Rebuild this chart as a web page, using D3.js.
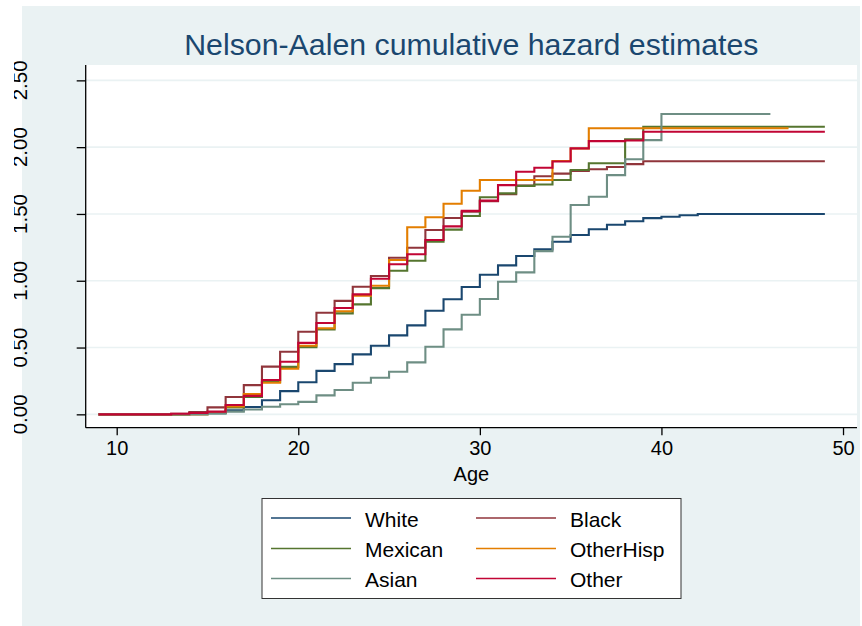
<!DOCTYPE html>
<html><head><meta charset="utf-8">
<script src="https://cdn.jsdelivr.net/npm/d3@7/dist/d3.min.js"></script>
<style>body{margin:0;background:#fff}svg{display:block}</style>
</head><body><svg id="c" width="862" height="626"></svg>
<script>
// ---- data (value of the cumulative hazard from each age onward) ----
const ages = [9,10,11,12,13,14,15,16,17,18,19,20,21,22,23,24,25,26,27,28,29,30,31,32,33,34,35,36,37,38,39,40,41,42,43,44,45,46,47,48,49];
const white = [0,0,0,0,0,0.003,0.01,0.03,0.055,0.105,0.174,0.24,0.325,0.376,0.449,0.514,0.591,0.666,0.775,0.861,0.953,1.045,1.115,1.185,1.235,1.292,1.342,1.385,1.419,1.445,1.469,1.479,1.49,1.5,1.5,1.5,1.5,1.5,1.5,1.5,1.5];
const black = [0,0,0,0,0.004,0.017,0.052,0.13,0.219,0.357,0.469,0.618,0.76,0.849,0.955,1.035,1.172,1.247,1.38,1.47,1.517,1.595,1.647,1.712,1.782,1.802,1.821,1.835,1.852,1.873,1.894,1.894,1.894,1.894,1.894,1.894,1.894,1.894,1.894,1.894,1.894];
const mexican = [0,0,0,0,0,0.005,0.01,0.052,0.13,0.244,0.355,0.503,0.636,0.756,0.823,0.945,1.075,1.15,1.292,1.383,1.485,1.625,1.654,1.71,1.72,1.754,1.829,1.879,1.879,2.058,2.153,2.153,2.153,2.153,2.153,2.153,2.153,2.153,2.153,2.153,2.153];
const otherHisp = [0,0,0,0,0,0,0.012,0.06,0.151,0.237,0.341,0.513,0.645,0.772,0.888,0.963,1.155,1.4,1.475,1.576,1.674,1.754,1.754,1.754,1.754,1.896,1.99,2.141,2.141,2.141,2.141,2.141,2.141,2.141,2.141,2.141,2.141,2.141,2.141,null,null];
const asian = [0,0,0,0,0,0,0.005,0.02,0.036,0.057,0.075,0.093,0.142,0.182,0.237,0.274,0.319,0.389,0.506,0.636,0.746,0.863,0.993,1.063,1.222,1.329,1.567,1.629,1.791,1.909,2.053,2.248,2.248,2.248,2.248,2.248,2.248,2.248,null,null,null];
const other = [0,0,0,0,0.004,0.01,0.02,0.07,0.138,0.257,0.394,0.535,0.684,0.796,0.898,1.015,1.123,1.198,1.305,1.407,1.523,1.6,1.716,1.816,1.846,1.893,1.991,2.045,2.045,2.05,2.115,2.115,2.115,2.115,2.115,2.115,2.115,2.115,2.115,2.115,2.115];

const seriesNames = ["White","Black","Mexican","OtherHisp","Asian","Other"];
const seriesValues = [white, black, mexican, otherHisp, asian, other];
const seriesColors = ["#1A476F","#90353B","#55752F","#E37E00","#6E8E84","#C10534"];
const xTicks = [10,20,30,40,50];
const yTicks = [0,0.5,1,1.5,2,2.5];
const titleText = "Nelson-Aalen cumulative hazard estimates";
const xTitle = "Age";

// ---- layout ----
const W = 862, H = 626;
const FONT = "'Liberation Sans', Arial, Helvetica, sans-serif";
const plot = {left: 85.7, right: 857, top: 65, bottom: 427.7};
const svg = d3.select("#c");

svg.append("rect").attr("x",0).attr("y",0).attr("width",W).attr("height",H).attr("fill","#ffffff");
svg.append("rect").attr("x",22).attr("y",6).attr("width",838).attr("height",H-6).attr("fill","#EAF2F3");
svg.append("rect").attr("x",plot.left).attr("y",plot.top)
   .attr("width",plot.right-plot.left).attr("height",plot.bottom-plot.top).attr("fill","#ffffff");

const defs = svg.append("defs");
defs.append("clipPath").attr("id","ylabclip")
  .append("rect").attr("x",14).attr("y",0).attr("width",60).attr("height",H);

const x = d3.scaleLinear().domain([8.293, 50.77]).range([plot.left, plot.right]);
const y = d3.scaleLinear().domain([-0.1, 2.615]).range([plot.bottom, plot.top]);

// gridlines
svg.append("g").selectAll("line").data(yTicks).join("line")
  .attr("x1",plot.left).attr("x2",plot.right)
  .attr("y1",d=>y(d)).attr("y2",d=>y(d))
  .attr("stroke","#EAF2F3").attr("stroke-width",1.6);

// series
const line = d3.line()
  .defined(d => d.v !== null)
  .x(d => x(d.a)).y(d => y(d.v))
  .curve(d3.curveStepAfter);

seriesValues.forEach((vals, i) => {
  const pts = ages.map((a, j) => ({a, v: vals[j]}));
  svg.append("path").datum(pts)
    .attr("d", line)
    .attr("fill","none")
    .attr("stroke", seriesColors[i])
    .attr("stroke-width", 2.1)
    .attr("stroke-linejoin","miter");
});

// axes
const xAxis = d3.axisBottom(x).tickValues(xTicks).tickSize(7.5).tickPadding(6).tickFormat(d3.format("d"));
const gx = svg.append("g").attr("transform",`translate(0,${plot.bottom})`).call(xAxis);
gx.select(".domain").attr("d",`M${plot.left},0H${plot.right}`).attr("stroke","#000").attr("stroke-width",1.3);
gx.selectAll(".tick line").attr("stroke","#000").attr("stroke-width",1.3);
gx.selectAll(".tick text").attr("font-family",FONT).attr("font-size",20).attr("fill","#000");

const yAxis = d3.axisLeft(y).tickValues(yTicks).tickSize(9).tickFormat(()=>"");
const gy = svg.append("g").attr("transform",`translate(${plot.left},0)`).call(yAxis);
gy.select(".domain").attr("d",`M0,${plot.top}V${plot.bottom}`).attr("stroke","#000").attr("stroke-width",1.3);
gy.selectAll(".tick line").attr("stroke","#000").attr("stroke-width",1.3);

// rotated y tick labels (partly cut at the left edge, as in the reference)
svg.append("g").attr("clip-path","url(#ylabclip)")
  .selectAll("text").data(yTicks).join("text")
  .attr("transform", d => `translate(27,${y(d)}) rotate(-90)`)
  .attr("text-anchor","middle")
  .attr("font-family",FONT).attr("font-size",20.5).attr("fill","#000")
  .text(d3.format(".2f"));

// titles
svg.append("text").attr("x",(plot.left+plot.right)/2).attr("y",55)
  .attr("text-anchor","middle").attr("font-family",FONT).attr("font-size",30.3)
  .attr("fill","#1A476F").text(titleText);
svg.append("text").attr("x",(plot.left+plot.right)/2).attr("y",481)
  .attr("text-anchor","middle").attr("font-family",FONT).attr("font-size",20)
  .attr("fill","#000").text(xTitle);

// legend
const lg = svg.append("g");
lg.append("rect").attr("x",262).attr("y",498.5).attr("width",419).attr("height",100)
  .attr("fill","#fff").attr("stroke","#333").attr("stroke-width",1);
const colX = [271, 476];
const rowY = [518, 548.5, 578.5];
seriesNames.forEach((name, i) => {
  const cx = colX[i % 2], cy = rowY[Math.floor(i / 2)];
  lg.append("line").attr("x1",cx).attr("x2",cx+80).attr("y1",cy).attr("y2",cy)
    .attr("stroke",seriesColors[i]).attr("stroke-width",1.6);
  lg.append("text").attr("x",cx+94).attr("y",cy+8.5)
    .attr("font-family",FONT).attr("font-size",21).attr("fill","#000").text(name);
});
</script>
</body></html>
